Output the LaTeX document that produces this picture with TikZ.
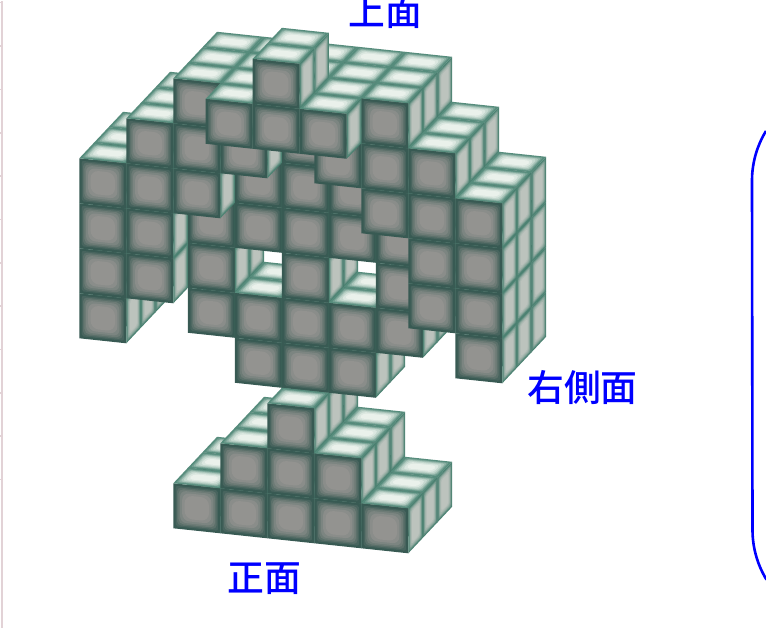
\documentclass[tikz,border=0pt]{standalone}
\usepackage{fontspec}
\newfontfamily\cjkfont{Noto Sans CJK JP}[UprightFont={* Medium}]
\definecolor{eF}{HTML}{385A53}
\definecolor{cF}{HTML}{939390}
\definecolor{eT}{HTML}{568C7C}
\definecolor{cT}{HTML}{EAF1EB}
\definecolor{eR}{HTML}{4C8272}
\definecolor{cR}{HTML}{BCC3BD}
\definecolor{rulepink}{HTML}{E2D2D6}
\tikzset{
  lab/.style={font=\cjkfont\fontsize{36.8}{37}\selectfont,text=blue,inner sep=0pt,anchor=center},
  panel/.style={draw=blue,line width=2.6pt},
  vox/.style={x={(47pt,-5pt)},y={(14.6pt,15.5pt)},z={(0pt,45pt)},shift={(173.3pt,99.7pt)}}
}
\newcommand\onevox[3]{%
  \foreach \t/\p/\r in {0/0/0,.05/18/2,.08/38/4,.11/58/5,.145/75/6,.19/90/7,.24/100/8}{%
    \fill[cF!\p!eF,rounded corners=\r] ({#1+\t},#2,{#3+\t}) -- ({#1+1-\t},#2,{#3+\t}) -- ({#1+1-\t},#2,{#3+1-\t}) -- ({#1+\t},#2,{#3+1-\t}) -- cycle;
    \fill[cT!\p!eT,rounded corners=\r/2] ({#1+.9*\t},{#2+1.4*\t},{#3+1}) -- ({#1+1-.9*\t},{#2+1.4*\t},{#3+1}) -- ({#1+1-.9*\t},{#2+1-1.4*\t},{#3+1}) -- ({#1+.9*\t},{#2+1-1.4*\t},{#3+1}) -- cycle;
    \fill[cR!\p!eR,rounded corners=\r/3] ({#1+1},{#2+1.1*\t},{#3+.65*\t}) -- ({#1+1},{#2+1-1.1*\t},{#3+.65*\t}) -- ({#1+1},{#2+1-1.1*\t},{#3+1-.65*\t}) -- ({#1+1},{#2+1.1*\t},{#3+1-.65*\t}) -- cycle;
  }}
\newcommand\col[3]{\foreach \k in {#3}{\onevox{#1}{#2}{\k}}}
\begin{document}
\begin{tikzpicture}[x=1pt,y=1pt]
\useasboundingbox (0,0) rectangle (766,628);
\fill[white] (0,0) rectangle (766,628);
% ruler at the left edge
\fill[rulepink] (1,0) rectangle (3,627);
\foreach \n in {0,...,11}{\fill[rulepink] (0,{628-2-43.35*\n}) rectangle (1,{628-3.5-43.35*\n});}
% voxels, painted from back to front
\begin{scope}[vox]
\foreach \j in {2,1}{
  \col{-2}{\j}{4,5,6,7}
  \col{-1}{\j}{5,6,7,8}
  \col{0}{\j}{0,4,5,6,7,8,9}
  \col{1}{\j}{0,1,3,4,6,7,8,9}
  \col{2}{\j}{0,1,2,3,4,5,6,7,8,9}
  \col{3}{\j}{0,1,3,4,6,7,8,9}
  \col{4}{\j}{0,4,5,6,7,8,9}
  \col{5}{\j}{5,6,7,8}
  \col{6}{\j}{4,5,6,7}
}
\col{-2}{0}{4,5,6,7}
\col{-1}{0}{5,6,7,8}
\col{0}{0}{0,7,8,9}
\col{1}{0}{0,1,8,9}
\col{2}{0}{0,1,2,9,10}
\col{3}{0}{0,1,8,9}
\col{4}{0}{0,7,8,9}
\col{5}{0}{5,6,7,8}
\col{6}{0}{4,5,6,7}
\col{1}{-1}{9}
\col{2}{-1}{9,10}
\col{3}{-1}{9}
\end{scope}
% labels
\node[lab] (top) at (385,616) {上面};
\node[lab] (right) at (582.5,240) {右側面};
\node[lab] (front) at (264.5,49) {正面};
% panel cut by the right edge
\draw[panel] (766,497) arc[start angle=148.5,end angle=180,radius=95] -- (752.5,98) arc[start angle=180,end angle=211.5,radius=95];
\end{tikzpicture}
\end{document}
